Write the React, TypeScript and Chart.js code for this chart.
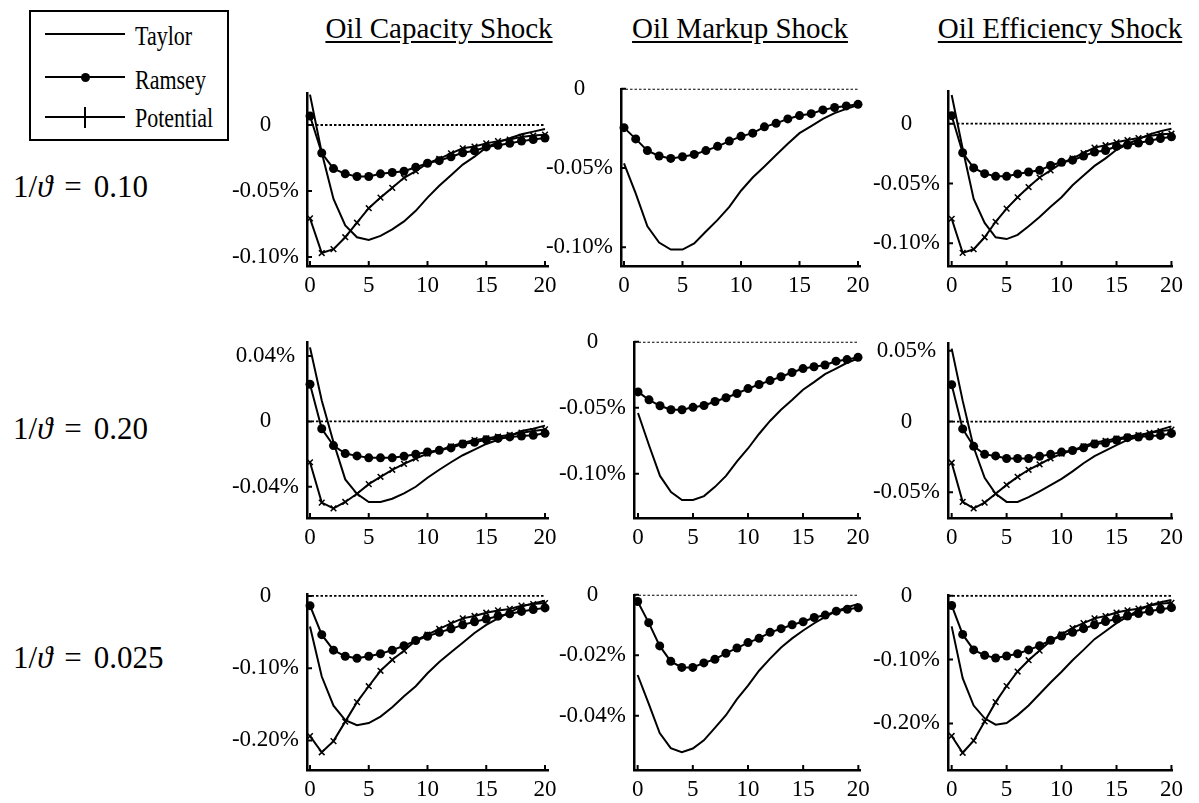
import React, { useEffect, useRef } from "react";
import { Chart, registerables } from "chart.js";

Chart.register(...registerables);

// ---------- data ----------
const PERIODS = [0, 1, 2, 3, 4, 5, 6, 7, 8, 9, 10, 11, 12, 13, 14, 15, 16, 17, 18, 19, 20];
const X_TICKS = [0, 5, 10, 15, 20];

const COLUMN_TITLES = ["Oil Capacity Shock", "Oil Markup Shock", "Oil Efficiency Shock"];
const ROW_VALUES = ["0.10", "0.20", "0.025"];
const LEGEND_LABELS = ["Taylor", "Ramsey", "Potential"];

// row 1: 1/theta = 0.10
const capTaylor10 = [0.023, -0.021, -0.056, -0.076, -0.085, -0.087, -0.084, -0.079, -0.073, -0.065, -0.055, -0.046, -0.038, -0.030, -0.024, -0.017, -0.013, -0.010, -0.007, -0.005, -0.003];
const capRamsey10 = [0.0068, -0.0212, -0.033, -0.037, -0.039, -0.039, -0.037, -0.036, -0.035, -0.032, -0.029, -0.027, -0.024, -0.021, -0.0195, -0.0166, -0.0154, -0.0139, -0.0122, -0.011, -0.0098];
const capPotential10 = [-0.0707, -0.097, -0.094, -0.085, -0.074, -0.063, -0.055, -0.0476, -0.040, -0.035, -0.029, -0.0256, -0.0215, -0.0176, -0.0163, -0.0139, -0.0122, -0.011, -0.009, -0.008, -0.0073];

const mkTaylor10 = [-0.047, -0.066, -0.0867, -0.097, -0.1014, -0.1014, -0.0976, -0.090, -0.0827, -0.0745, -0.0643, -0.056, -0.049, -0.0418, -0.0347, -0.028, -0.0235, -0.019, -0.0153, -0.0127, -0.0102];
const mkRamsey10 = [-0.0245, -0.0316, -0.039, -0.0424, -0.0439, -0.0429, -0.0414, -0.039, -0.0363, -0.033, -0.030, -0.028, -0.024, -0.0218, -0.019, -0.0169, -0.0157, -0.0133, -0.0118, -0.0108, -0.0098];

const effTaylor10 = [0.024, -0.021, -0.063, -0.083, -0.095, -0.0965, -0.093, -0.0857, -0.078, -0.0695, -0.0615, -0.0515, -0.0434, -0.0353, -0.029, -0.0218, -0.017, -0.013, -0.0089, -0.0062, -0.0043];
const effRamsey10 = [0.0067, -0.0243, -0.037, -0.0418, -0.044, -0.044, -0.042, -0.0404, -0.039, -0.035, -0.0323, -0.0305, -0.027, -0.0237, -0.0224, -0.0189, -0.0178, -0.0162, -0.0143, -0.0124, -0.011];
const effPotential10 = [-0.0795, -0.108, -0.105, -0.095, -0.082, -0.071, -0.0615, -0.053, -0.045, -0.039, -0.033, -0.029, -0.0245, -0.020, -0.018, -0.0156, -0.0137, -0.012, -0.0102, -0.0089, -0.0084];

// row 2: 1/theta = 0.20
const capTaylor20 = [0.0453, 0.0128, -0.0128, -0.0355, -0.0443, -0.0493, -0.0493, -0.0473, -0.044, -0.040, -0.0345, -0.0296, -0.025, -0.0207, -0.0173, -0.0138, -0.0112, -0.0089, -0.0059, -0.0045, -0.0026];
const capRamsey20 = [0.0227, -0.0045, -0.0148, -0.0197, -0.0211, -0.0223, -0.0223, -0.0223, -0.0213, -0.0201, -0.0187, -0.0177, -0.0162, -0.0138, -0.0128, -0.0112, -0.0104, -0.0095, -0.0089, -0.0085, -0.0073];
const capPotential20 = [-0.025, -0.0497, -0.0532, -0.0493, -0.0443, -0.0384, -0.0339, -0.0296, -0.026, -0.0227, -0.0197, -0.0177, -0.0152, -0.0132, -0.0114, -0.0104, -0.0093, -0.0083, -0.0069, -0.0059, -0.0049];

const mkTaylor20 = [-0.054, -0.0784, -0.1017, -0.114, -0.120, -0.120, -0.117, -0.110, -0.1017, -0.0907, -0.0809, -0.0699, -0.060, -0.0515, -0.0441, -0.0363, -0.0306, -0.0245, -0.0203, -0.0159, -0.0127];
const mkRamsey20 = [-0.038, -0.044, -0.0485, -0.0515, -0.0515, -0.0497, -0.0483, -0.0453, -0.0424, -0.0392, -0.0355, -0.0324, -0.0294, -0.0265, -0.0233, -0.0203, -0.0189, -0.0176, -0.0147, -0.0135, -0.0118];

const effTaylor20 = [0.0516, 0.0148, -0.0182, -0.0398, -0.0511, -0.0568, -0.0568, -0.0534, -0.0493, -0.045, -0.0405, -0.0352, -0.0295, -0.0245, -0.0205, -0.0166, -0.013, -0.0107, -0.008, -0.0057, -0.0034];
const effRamsey20 = [0.0261, -0.0052, -0.0175, -0.0232, -0.0243, -0.0261, -0.0261, -0.0261, -0.0245, -0.0232, -0.0216, -0.0205, -0.0186, -0.0159, -0.0152, -0.013, -0.0114, -0.0109, -0.0102, -0.0098, -0.0084];
const effPotential20 = [-0.0291, -0.0568, -0.0614, -0.0573, -0.0511, -0.0448, -0.0391, -0.0341, -0.0302, -0.0261, -0.0227, -0.0205, -0.0175, -0.0148, -0.0136, -0.012, -0.0107, -0.0095, -0.008, -0.0068, -0.0057];

// row 3: 1/theta = 0.025
const capTaylor025 = [-0.0424, -0.1116, -0.152, -0.172, -0.179, -0.176, -0.167, -0.154, -0.139, -0.125, -0.107, -0.0915, -0.078, -0.0647, -0.0513, -0.040, -0.031, -0.0223, -0.0147, -0.0103, -0.0067];
const capRamsey025 = [-0.0134, -0.0536, -0.075, -0.0835, -0.0862, -0.0835, -0.080, -0.075, -0.069, -0.0616, -0.0558, -0.0504, -0.0455, -0.040, -0.0357, -0.032, -0.028, -0.0246, -0.0214, -0.0188, -0.0165];
const capPotential025 = [-0.194, -0.2165, -0.201, -0.174, -0.147, -0.125, -0.1036, -0.0884, -0.0759, -0.0616, -0.0536, -0.0455, -0.038, -0.031, -0.0277, -0.0232, -0.020, -0.0179, -0.0134, -0.0112, -0.0098];

const mkTaylor025 = [-0.0265, -0.036, -0.0457, -0.0507, -0.052, -0.0508, -0.0481, -0.044, -0.0398, -0.0345, -0.030, -0.0251, -0.0211, -0.0174, -0.0144, -0.0118, -0.0094, -0.0073, -0.0054, -0.0041, -0.003];
const mkRamsey025 = [-0.0022, -0.0092, -0.0169, -0.022, -0.024, -0.024, -0.0225, -0.0213, -0.0193, -0.0176, -0.0158, -0.0144, -0.0124, -0.0112, -0.0099, -0.0089, -0.0075, -0.0067, -0.0054, -0.0048, -0.0043];

const effTaylor025 = [-0.048, -0.129, -0.172, -0.192, -0.202, -0.1995, -0.187, -0.172, -0.154, -0.136, -0.119, -0.101, -0.0848, -0.068, -0.0556, -0.043, -0.0328, -0.0227, -0.0152, -0.0101, -0.0066];
const effRamsey025 = [-0.0152, -0.0606, -0.0848, -0.0934, -0.0975, -0.0944, -0.0909, -0.0848, -0.0783, -0.0697, -0.0631, -0.0571, -0.0515, -0.0455, -0.0404, -0.0364, -0.0318, -0.0278, -0.0242, -0.0212, -0.0187];
const effPotential025 = [-0.2197, -0.246, -0.227, -0.197, -0.1667, -0.1414, -0.1187, -0.101, -0.0859, -0.0707, -0.0606, -0.0505, -0.0429, -0.0354, -0.0318, -0.0263, -0.0227, -0.0202, -0.0152, -0.0126, -0.0111];

// y tick values per panel
const yTicksA = [0, -0.05, -0.1];
const yTicksB = [0.04, 0, -0.04];
const yTicksC = [0.05, 0, -0.05];
const yTicksD = [0, -0.1, -0.2];
const yTicksE = [0, -0.02, -0.04];

// ---------- layout (pixel boxes of each plot area, axis ranges) ----------
type Box = { left: number; right: number; top: number; bottom: number; xMin: number; xMax: number; yMin: number; yMax: number };
type Panel = { taylor: number[]; ramsey: number[]; potential?: number[]; yTicks: number[]; box: Box };

const PANELS: Panel[] = [
  { taylor: capTaylor10, ramsey: capRamsey10, potential: capPotential10, yTicks: yTicksA,
    box: { left: 307, right: 548, top: 87, bottom: 266, xMin: -0.255, xMax: 20.255, yMin: -0.1068, yMax: 0.0244 } },
  { taylor: mkTaylor10, ramsey: mkRamsey10, yTicks: yTicksA,
    box: { left: 621, right: 860, top: 83, bottom: 266, xMin: -0.256, xMax: 20.17, yMin: -0.1118, yMax: 0 } },
  { taylor: effTaylor10, ramsey: effRamsey10, potential: effPotential10, yTicks: yTicksA,
    box: { left: 948, right: 1173, top: 85, bottom: 266, xMin: -0.335, xMax: 20.06, yMin: -0.119, yMax: 0.0275 } },

  { taylor: capTaylor20, ramsey: capRamsey20, potential: capPotential20, yTicks: yTicksB,
    box: { left: 307, right: 548, top: 336, bottom: 518, xMin: -0.255, xMax: 20.255, yMin: -0.0591, yMax: 0.0487 } },
  { taylor: mkTaylor20, ramsey: mkRamsey20, yTicks: yTicksA,
    box: { left: 634, right: 860, top: 336, bottom: 518, xMin: -0.364, xMax: 20.18, yMin: -0.1336, yMax: 0 } },
  { taylor: effTaylor20, ramsey: effRamsey20, potential: effPotential20, yTicks: yTicksC,
    box: { left: 948, right: 1173, top: 337, bottom: 518, xMin: -0.335, xMax: 20.06, yMin: -0.0682, yMax: 0.0557 } },

  { taylor: capTaylor025, ramsey: capRamsey025, potential: capPotential025, yTicks: yTicksD,
    box: { left: 307, right: 548, top: 588, bottom: 770, xMin: -0.255, xMax: 20.255, yMin: -0.241, yMax: 0.003 } },
  { taylor: mkTaylor025, ramsey: mkRamsey025, yTicks: yTicksE,
    box: { left: 634, right: 860, top: 589, bottom: 770, xMin: -0.33, xMax: 20.15, yMin: -0.0579, yMax: 0 } },
  { taylor: effTaylor025, ramsey: effRamsey025, potential: effPotential025, yTicks: yTicksD,
    box: { left: 948, right: 1173, top: 589, bottom: 770, xMin: -0.335, xMax: 20.06, yMin: -0.273, yMax: 0.0015 } },
];

const Y_AXIS_W = 100;
const X_AXIS_H = 40;
const PAD_TOP = 16;
const PAD_RIGHT = 16;
const FONT = "'Liberation Serif', 'Times New Roman', serif";

const inwardTicks = {
  id: "inwardTicks",
  afterDraw(chart: any) {
    const { ctx, chartArea } = chart;
    const xs = chart.scales.x;
    const ys = chart.scales.y;
    ctx.save();
    ctx.strokeStyle = "#000";
    ctx.lineWidth = 2;
    ctx.beginPath();
    xs.ticks.forEach((t: any) => {
      const px = xs.getPixelForValue(t.value);
      ctx.moveTo(px, chartArea.bottom);
      ctx.lineTo(px, chartArea.bottom - 5);
    });
    ys.ticks.forEach((t: any) => {
      const py = ys.getPixelForValue(t.value);
      ctx.moveTo(chartArea.left, py);
      ctx.lineTo(chartArea.left + 5, py);
    });
    ctx.stroke();
    ctx.restore();
  },
};

const fmtY = (v: number) => (v === 0 ? "0" : v.toFixed(2) + "%");

function PanelChart({ panel }: { panel: Panel }) {
  const ref = useRef<HTMLCanvasElement | null>(null);
  const b = panel.box;
  const width = Y_AXIS_W + (b.right - b.left) + PAD_RIGHT;
  const height = PAD_TOP + (b.bottom - b.top) + X_AXIS_H;

  useEffect(() => {
    if (!ref.current) return;
    const pts = (arr: number[]) => PERIODS.map((t, i) => ({ x: t, y: arr[i] }));
    const datasets: any[] = [
      {
        label: "Ramsey",
        data: pts(panel.ramsey),
        borderColor: "#000",
        backgroundColor: "#000",
        borderWidth: 2,
        pointStyle: "circle",
        pointRadius: 4.5,
        pointBorderWidth: 0,
        pointBackgroundColor: "#000",
        clip: 8,
      },
    ];
    if (panel.potential) {
      datasets.push({
        label: "Potential",
        data: pts(panel.potential),
        borderColor: "#000",
        borderWidth: 2,
        pointStyle: "crossRot",
        pointRadius: 4,
        pointBorderWidth: 1.5,
        pointBorderColor: "#000",
        clip: 8,
      });
    }
    datasets.push({
      label: "Taylor",
      data: pts(panel.taylor),
      borderColor: "#000",
      borderWidth: 2,
      pointRadius: 0,
    });
    datasets.push({
      label: "zero",
      data: [
        { x: b.xMin, y: 0 },
        { x: PERIODS[PERIODS.length - 1], y: 0 },
      ],
      borderColor: "#000",
      borderWidth: 1.8,
      borderDash: [2.5, 2],
      pointRadius: 0,
    });

    const chart = new Chart(ref.current, {
      type: "line",
      data: { datasets },
      options: {
        animation: false,
        responsive: false,
        events: [],
        layout: { padding: { top: PAD_TOP, right: PAD_RIGHT, left: 0, bottom: 0 } },
        plugins: { legend: { display: false }, tooltip: { enabled: false } },
        elements: { line: { tension: 0 } },
        scales: {
          x: {
            type: "linear",
            min: b.xMin,
            max: b.xMax,
            afterBuildTicks: (s: any) => {
              s.ticks = X_TICKS.map((v) => ({ value: v }));
            },
            afterFit: (s: any) => {
              s.height = X_AXIS_H;
            },
            grid: { display: false, drawTicks: false },
            border: { display: true, color: "#000", width: 2.5 },
            ticks: {
              color: "#000",
              font: { family: FONT, size: 23 },
              padding: 6,
              maxRotation: 0,
              autoSkip: false,
              callback: (v: any) => String(v),
            },
          },
          y: {
            type: "linear",
            min: b.yMin,
            max: b.yMax,
            afterBuildTicks: (s: any) => {
              s.ticks = panel.yTicks.map((v) => ({ value: v }));
            },
            afterFit: (s: any) => {
              s.width = Y_AXIS_W;
            },
            grid: { display: false, drawTicks: false },
            border: { display: true, color: "#000", width: 2.5 },
            ticks: {
              color: "#000",
              font: { family: FONT, size: 23 },
              padding: 8,
              crossAlign: "center",
              autoSkip: false,
              callback: (v: any) => fmtY(Number(v)),
            },
          },
        },
      } as any,
      plugins: [inwardTicks as any],
    });
    return () => chart.destroy();
  }, [panel]);

  return (
    <canvas
      ref={ref}
      width={width}
      height={height}
      style={{
        position: "absolute",
        left: b.left - Y_AXIS_W,
        top: b.top - PAD_TOP,
        width,
        height,
      }}
    />
  );
}

const TITLE_CENTERS = [439, 740, 1060];
const ROW_TOPS = [171, 413, 642];

function Legend() {
  const lineY = [34, 77, 117];
  const textCenters = [36, 80, 118];
  return (
    <>
      <div
        style={{
          position: "absolute",
          left: 29,
          top: 10,
          width: 200,
          height: 131,
          border: "2px solid #000",
          boxSizing: "border-box",
          background: "#fff",
        }}
      />
      {LEGEND_LABELS.map((lab, i) => (
        <React.Fragment key={lab}>
          <div style={{ position: "absolute", left: 45, top: lineY[i] - 1, width: 80, height: 2, background: "#000" }} />
          {i === 1 && (
            <div
              style={{
                position: "absolute",
                left: 85 - 4.5,
                top: lineY[i] - 4.5,
                width: 9,
                height: 9,
                borderRadius: "50%",
                background: "#000",
              }}
            />
          )}
          {i === 2 && (
            <div style={{ position: "absolute", left: 84, top: lineY[i] - 10, width: 2, height: 21, background: "#000" }} />
          )}
          <div
            style={{
              position: "absolute",
              left: 135,
              top: textCenters[i] - 11,
              fontFamily: FONT,
              fontSize: 22,
              lineHeight: "22px",
              whiteSpace: "nowrap",
              transform: "scaleY(1.25)",
              transformOrigin: "50% 50%",
              color: "#000",
            }}
          >
            {lab}
          </div>
        </React.Fragment>
      ))}
    </>
  );
}

export default function App() {
  return (
    <div
      style={{
        position: "absolute",
        left: 0,
        top: 0,
        width: 1199,
        height: 803,
        background: "#fff",
        overflow: "hidden",
        fontFamily: FONT,
      }}
    >
      <Legend />
      {COLUMN_TITLES.map((t, i) => (
        <div
          key={t}
          style={{
            position: "absolute",
            left: TITLE_CENTERS[i] - 170,
            width: 340,
            top: 14,
            textAlign: "center",
            fontSize: 29,
            lineHeight: "29px",
            textDecoration: "underline",
            textUnderlineOffset: "3px",
            whiteSpace: "nowrap",
            color: "#000",
          }}
        >
          {t}
        </div>
      ))}
      {ROW_VALUES.map((v, i) => (
        <div
          key={v}
          style={{
            position: "absolute",
            left: 13,
            top: ROW_TOPS[i],
            fontSize: 31,
            lineHeight: "31px",
            whiteSpace: "nowrap",
            color: "#000",
          }}
        >
          <span>1/</span>
          <span style={{ fontStyle: "italic" }}>ϑ</span>
          <span style={{ margin: "0 12px" }}>=</span>
          <span>{v}</span>
        </div>
      ))}
      {PANELS.map((p, i) => (
        <PanelChart key={i} panel={p} />
      ))}
    </div>
  );
}
